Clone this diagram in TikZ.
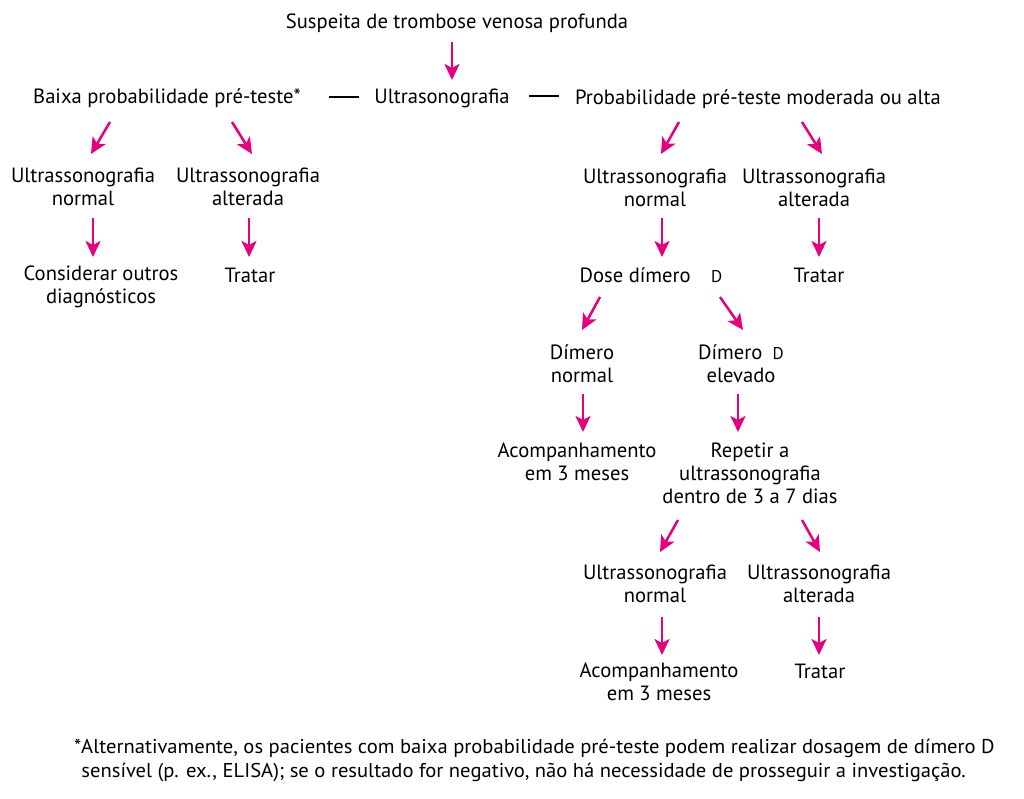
\documentclass[tikz,border=0pt]{standalone}
\usepackage{fontspec}
\setmainfont{PT Sans}
\usetikzlibrary{arrows.meta,calc}
\definecolor{mag}{HTML}{E6007E}
\begin{document}
\begin{tikzpicture}[x=1pt,y=-1pt,
  txt/.style={inner sep=0pt, align=center, font=\fontsize{20.6}{23}\selectfont, anchor=base},
  arr/.style={draw=mag, line width=2.5pt, -{Stealth[length=16pt,width=15pt,inset=4pt]}},
  dashline/.style={draw=black, line width=2pt}]
\useasboundingbox[fill=white] (0,0) rectangle (1024,798);

\node[txt] (susp) at (457,28) {Suspeita de trombose venosa profunda};
\node[txt] (ultra) at (442,103) {Ultrasonografia};
\node[txt] (baixa) at (167,103) {Baixa probabilidade pré-teste*};
\node[txt] (prob) at (758,104) {Probabilidade pré-teste moderada ou alta};

\node[txt] (lusn) at (83,205) {Ultrassonografia\\normal};
\node[txt] (lusa) at (248,205) {Ultrassonografia\\alterada};
\node[txt] (lcons) at (101,303) {Considerar outros\\diagnósticos};
\node[txt] (ltrat) at (250,282) {Tratar};

\node[txt] (rusn) at (655,206) {Ultrassonografia\\normal};
\node[txt] (rusa) at (814,206) {Ultrassonografia\\alterada};
\node[txt] (dose) at (651,282) {Dose dímero\quad{\fontsize{17}{20}\selectfont D}};
\node[txt] (rtrat) at (819,282) {Tratar};

\node[txt] (dimn) at (582,382) {Dímero\\normal};
\node[txt] (dime) at (741,382) {Dímero\enspace{\fontsize{17}{20}\selectfont D}\\elevado};
\node[txt] (acomp1) at (577,480) {Acompanhamento\\em 3 meses};
\node[txt] (repetir) at (750,503) {Repetir a\\ultrassonografia\\dentro de 3 a 7 dias};

\node[txt] (usn2) at (655,602) {Ultrassonografia\\normal};
\node[txt] (usa2) at (819,602) {Ultrassonografia\\alterada};
\node[txt] (acomp2) at (659,700) {Acompanhamento\\em 3 meses};
\node[txt] (trat2) at (820,678) {Tratar};

\node[inner sep=0pt, align=left, anchor=base west, font=\addfontfeature{FakeStretch=1.03}\fontsize{20}{24}\selectfont] (foot) at (74,777)
 {*Alternativamente, os pacientes com baixa probabilidade pré-teste podem realizar dosagem de dímero D\\
  \phantom{*}sensível (p. ex., ELISA); se o resultado for negativo, não há necessidade de prosseguir a investigação.};

\draw[dashline] ($(baixa.base east)+(28,-6)$) -- ($(ultra.base west)+(-15,-6)$);
\draw[dashline] ($(ultra.base east)+(19,-7)$) -- ($(prob.base west)+(-16,-8)$);

\draw[arr] ($(susp.base)+(-5,14)$) -- ($(ultra.base)+(10,-23)$);
\draw[arr] ($(baixa.base)+(-57,19)$) -- ($(lusn.base)+(8,-51)$);
\draw[arr] ($(baixa.base)+(65,19)$) -- ($(lusa.base)+(4,-51)$);
\draw[arr] ($(lusn.base)+(10,13)$) -- ($(lcons.base)+(-8,-46)$);
\draw[arr] ($(lusa.base)+(1,13)$) -- ($(ltrat.base)+(-1,-25)$);
\draw[arr] ($(prob.base)+(-79,18)$) -- ($(rusn.base)+(6,-52)$);
\draw[arr] ($(prob.base)+(44,18)$) -- ($(rusa.base)+(8,-52)$);
\draw[arr] ($(rusn.base)+(7,12)$) -- ($(dose.base)+(11,-25)$);
\draw[arr] ($(rusa.base)+(5,12)$) -- ($(rtrat.base)+(0,-25)$);
\draw[arr] ($(dose.base)+(-51,15)$) -- ($(dimn.base)+(0,-52)$);
\draw[arr] ($(dose.base)+(69,15)$) -- ($(dime.base)+(2,-52)$);
\draw[arr] ($(dimn.base)+(1,12)$) -- ($(acomp1.base)+(6,-48)$);
\draw[arr] ($(dime.base)+(-3,12)$) -- ($(repetir.base)+(-12,-71)$);
\draw[arr] ($(repetir.base)+(-72,17)$) -- ($(usn2.base)+(5,-50)$);
\draw[arr] ($(repetir.base)+(52,17)$) -- ($(usa2.base)+(1,-50)$);
\draw[arr] ($(usn2.base)+(7,15)$) -- ($(acomp2.base)+(3,-45)$);
\draw[arr] ($(usa2.base)+(0,15)$) -- ($(trat2.base)+(-1,-23)$);
\end{tikzpicture}
\end{document}
